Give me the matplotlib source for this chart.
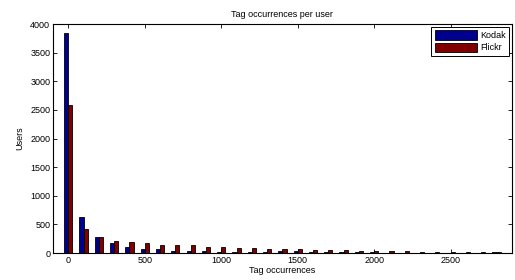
import numpy as np
import matplotlib
matplotlib.use('Agg')
import matplotlib.pyplot as plt

# histogram bin centres and counts
bins = np.arange(0, 2900, 100)
kodak = [3850, 630, 290, 170, 100, 75, 65, 40, 35, 30, 25, 20, 20, 15, 30,
         30, 15, 15, 12, 12, 12, 10, 10, 10, 10, 10, 10, 10, 15]
flickr = [2580, 425, 275, 215, 200, 185, 150, 135, 140, 110, 110, 95, 90, 75, 75,
          70, 60, 50, 50, 45, 40, 30, 45, 25, 25, 25, 20, 20, 15]

plt.rcParams['font.family'] = ['Liberation Sans', 'DejaVu Sans']
plt.rcParams['font.size'] = 6.5

fig = plt.figure(figsize=(5.15, 2.8), dpi=100)
ax = fig.add_axes([0.103, 0.096, 0.8906, 0.818])

w = 27
ax.bar(bins - w / 2, kodak, width=w, color='#00008F', edgecolor='black', linewidth=0.6, label='Kodak')
ax.bar(bins + w / 2, flickr, width=w, color='#800000', edgecolor='black', linewidth=0.6, label='Flickr')

ax.set_xlim(-100, 2900)
ax.set_ylim(0, 4000)
ax.set_xticks(np.arange(0, 3000, 500))
ax.set_yticks(np.arange(0, 4001, 500))
ax.tick_params(direction='in', top=True, right=True, length=3, width=0.6, pad=2)
for s in ax.spines.values():
    s.set_linewidth(0.8)

ax.set_title('Tag occurrences per user', fontsize=6.5, pad=5)
ax.set_xlabel('Tag occurrences', labelpad=1)
ax.set_ylabel('Users', labelpad=4)

leg = ax.legend(loc='upper right', fancybox=False, edgecolor='black', framealpha=1,
                handlelength=4.6, handleheight=1.2, handletextpad=0.35, borderpad=0.4,
                labelspacing=0.3, borderaxespad=0.3)
leg.get_frame().set_linewidth(0.7)

fig.savefig('out.png', dpi=100)
